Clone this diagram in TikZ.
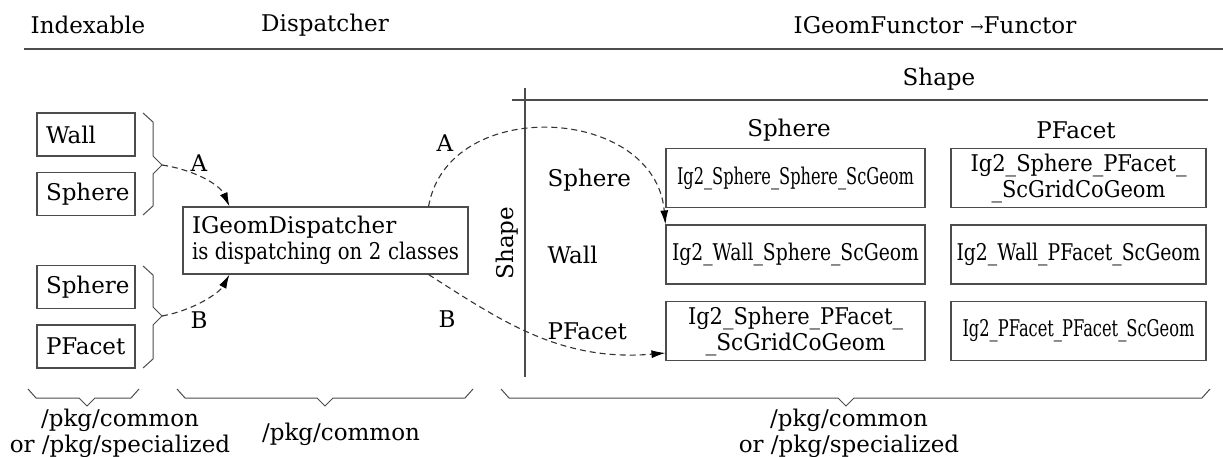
\documentclass[tikz,border=0pt]{standalone}
\usepackage{fontspec}
\setmainfont{DejaVu Serif}
\usepackage{xcolor}
\usepackage{tikz}
\usetikzlibrary{arrows.meta}
\definecolor{linegray}{gray}{0.3}
% squeeze a text to a given width, keeping its height
\newcommand\fitw[2]{\resizebox{#1}{\height}{#2}}

\begin{document}
\begin{tikzpicture}[
	x=1pt, y=-1pt,
	line width=1.1pt,
	every node/.style={font=\fontsize{23}{26}\selectfont},
	hdr/.style={inner sep=0pt},
	idxbox/.style={draw=linegray, text width=80pt, inner xsep=9pt, inner ysep=0pt, minimum height=43pt, align=left},
	dispbox/.style={draw=linegray, text width=267pt, inner xsep=9pt, minimum height=67pt, align=left},
	geombox/.style={draw=linegray, minimum height=59pt, inner sep=2pt, align=center},
	rowlbl/.style={anchor=west, inner sep=0pt},
	call/.style={-{Latex[length=14pt,width=8pt,black]}, dash pattern=on 6pt off 4pt, draw=black!80},
	brc/.style={draw=linegray, line width=1pt}
	]
	\useasboundingbox (0,0) rectangle (1223,457);
	
	% ===== HEADER =====
	\node[hdr] (hIdx)  at (88,25)  {Indexable};
	\node[hdr] (hDisp) at (325,25) {Dispatcher};
	\node[hdr] (hFun)  at (935,25) {IGeomFunctor \raisebox{1pt}{\fontsize{16}{18}\selectfont →}Functor};
	\draw[linegray] (24,49) -- (1223,49);
	
	% ===== INDEXABLE =====
	\node[idxbox] (wall)  at (86,134.5) {Wall};
	\node[idxbox] (sphA)  at (86,194)   {Sphere};
	\node[idxbox] (sphB)  at (86,287)   {Sphere};
	\node[idxbox] (pfct)  at (86,346.5) {PFacet};
	
	\draw[brc] (143,113) -- (153,122) -- (153,156) -- (162,165) -- (153,174) -- (153,206) -- (143,215);
	\draw[brc] (143,266) -- (153,275) -- (153,307) -- (162,316) -- (153,325) -- (153,359) -- (143,368);
	\coordinate (tipA) at (162,165);
	\coordinate (tipB) at (162,316);
	
	% ===== DISPATCHER =====
	\node[dispbox] (disp) at (325.5,240.5) {IGeomDispatcher\\\fitw{267pt}{is dispatching on 2 classes}};
	
	% ===== FUNCTOR TABLE =====
	\node[hdr] (shapeCol) at (939,79) {Shape};
	\draw[linegray] (512,100) -- (1208,100);
	\draw[linegray] (525,88) -- (525,377);
	\node[hdr, rotate=90] (shapeRow) at (507,243) {Shape};
	
	\node[hdr] (colSph) at (789,130)  {Sphere};
	\node[hdr] (colPF)  at (1076,130) {PFacet};
	
	\node[rowlbl] (rowSph)  at (547,180) {Sphere};
	\node[rowlbl] (rowWall) at (547,255) {Wall};
	\node[rowlbl] (rowPF)   at (547,331) {PFacet};
	
	\node[geombox, minimum width=259pt] (g11) at (795.5,178)   {\fitw{237pt}{Ig2\_Sphere\_Sphere\_ScGeom}};
	\node[geombox, minimum width=255pt] (g12) at (1078.5,178)  {\fitw{216pt}{Ig2\_Sphere\_PFacet\_}\\\fitw{174pt}{\_ScGridCoGeom}};
	\node[geombox, minimum width=259pt] (g21) at (795.5,254.5) {\fitw{247pt}{Ig2\_Wall\_Sphere\_ScGeom}};
	\node[geombox, minimum width=255pt] (g22) at (1078.5,254.5){\fitw{244pt}{Ig2\_Wall\_PFacet\_ScGeom}};
	\node[geombox, minimum width=259pt] (g31) at (795.5,331)   {\fitw{215pt}{Ig2\_Sphere\_PFacet\_}\\\fitw{180pt}{\_ScGridCoGeom}};
	\node[geombox, minimum width=255pt] (g32) at (1078.5,331)  {\fitw{232pt}{Ig2\_PFacet\_PFacet\_ScGeom}};
	
	% ===== ARROWS =====
	\draw[call] (tipA) .. controls (195,170) and (220,185) .. ([xshift=47pt]disp.north west);
	\draw[call] (tipB) .. controls (195,310) and (220,292) .. ([xshift=47pt]disp.south west);
	\draw[call] ([xshift=-40pt]disp.north east) .. controls (448,95) and (655,105) .. (g21.north west);
	\draw[call] ([xshift=-40pt]disp.south east) .. controls (500,320) and (560,362) .. ([yshift=-22pt]g31.west);
	
	\node[hdr] (lblA)  at (199,163) {A};
	\node[hdr] (lblB)  at (199,320) {B};
	\node[hdr] (lblA2) at (445,143) {A};
	\node[hdr] (lblB2) at (447,319) {B};
	
	% ===== PACKAGES =====
	\draw[brc] (28,389) -- (36,398) -- (79,398) -- (87,406) -- (95,398) -- (131,398) -- (139,389);
	\draw[brc] (177,389) -- (185,398) -- (317,398) -- (325,406) -- (333,398) -- (465,398) -- (473,389);
	\draw[brc] (501,389) -- (509,398) -- (838,398) -- (846,406) -- (854,398) -- (1202,398) -- (1210,389);
	
	\node[hdr, align=center] (pkgIdx)  at (120,433) {/pkg/common\\or /pkg/specialized};
	\node[hdr]               (pkgDisp) at (341,434) {/pkg/common};
	\node[hdr, align=center] (pkgFun)  at (849,433) {/pkg/common\\or /pkg/specialized};
\end{tikzpicture}
\end{document}
